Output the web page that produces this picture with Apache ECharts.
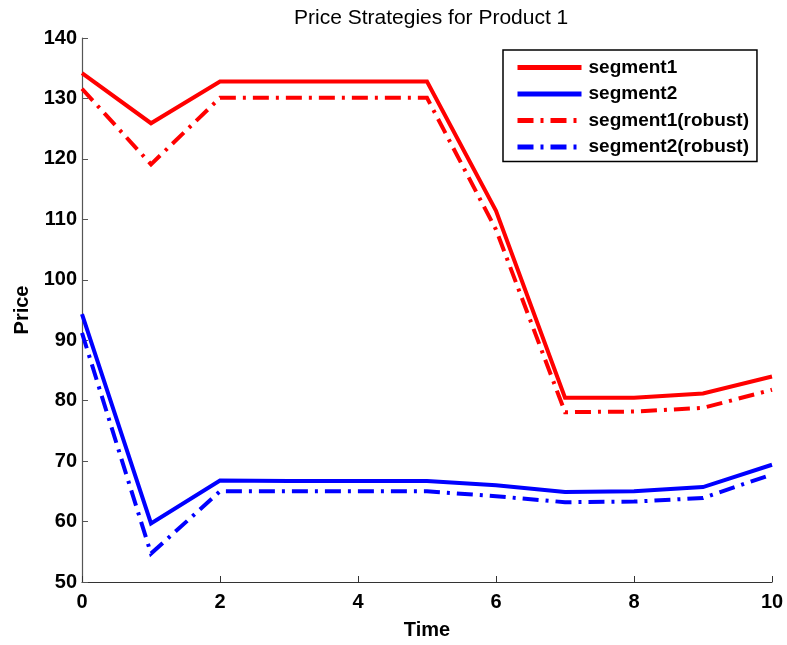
<!DOCTYPE html>
<html>
<head>
<meta charset="utf-8">
<script src="https://cdn.jsdelivr.net/npm/echarts@6/dist/echarts.min.js"></script>
<style>html,body{margin:0;padding:0;background:#fff}#c{width:787px;height:645px}</style>
</head>
<body>
<div id="c"></div>
<script>
var times = [0, 1, 2, 3, 4, 5, 6, 7, 8, 9, 10];
var seg1 = [134.2, 125.9, 132.8, 132.8, 132.8, 132.8, 111.4, 80.5, 80.5, 81.2, 84.0];
var seg2 = [94.3, 59.7, 66.8, 66.7, 66.7, 66.7, 66.0, 64.9, 65.0, 65.7, 69.4];
var seg1r = [131.6, 119.1, 130.1, 130.1, 130.1, 130.1, 108.3, 78.1, 78.2, 78.8, 81.8];
var seg2r = [91.2, 54.7, 65.0, 65.0, 65.0, 65.0, 64.2, 63.2, 63.3, 63.9, 67.8];
var seriesNames = ['segment1', 'segment2', 'segment1(robust)', 'segment2(robust)'];
var xTicks = [0, 2, 4, 6, 8, 10];
var yTicks = [50, 60, 70, 80, 90, 100, 110, 120, 130, 140];

function pairs(vals) { return times.map(function (t, i) { return [t, vals[i]]; }); }
var dashDot = [16, 7, 3, 7];
function mk(name, vals, color, dashed) {
  return {
    name: name, type: 'line', data: pairs(vals), symbol: 'none',
    lineStyle: { color: color, width: 4, type: dashed ? dashDot : 'solid', cap: 'butt', join: 'miter' },
    itemStyle: { color: color },
    animation: false
  };
}
var chart = echarts.init(document.getElementById('c'), null, { renderer: 'canvas' });
var axisFont = { fontFamily: 'Liberation Sans, Arial, sans-serif', fontWeight: 'bold', fontSize: 20, color: '#000' };
chart.setOption({
  animation: false,
  title: {
    text: 'Price Strategies for Product 1', left: 289, top: 3,
    textStyle: { fontFamily: 'Liberation Sans, Arial, sans-serif', fontWeight: 'normal', fontSize: 21, color: '#000' }
  },
  grid: { left: 82, right: 15, top: 38, bottom: 60, containLabel: false },
  legend: {
    orient: 'vertical', left: 503, top: 50,
    data: seriesNames,
    backgroundColor: '#fff', borderColor: '#000', borderWidth: 1.5,
    padding: [8, 8, 5, 12], itemGap: 7.5, itemWidth: 64, itemHeight: 14,
    itemStyle: { opacity: 0, borderWidth: 0 },
    lineStyle: { width: 5 },
    textStyle: { fontFamily: 'Liberation Sans, Arial, sans-serif', fontWeight: 'bold', fontSize: 19, color: '#000', padding: [0, 0, 0, 2] }
  },
  xAxis: {
    type: 'value', min: 0, max: 10, interval: 2,
    name: 'Time', nameLocation: 'middle', nameGap: 38,
    nameTextStyle: axisFont,
    axisLine: { show: true, lineStyle: { color: '#333', width: 1.2 } },
    axisTick: { show: true, inside: true, length: 6, lineStyle: { color: '#333' } },
    axisLabel: Object.assign({ margin: 10 }, axisFont),
    splitLine: { show: false }
  },
  yAxis: {
    type: 'value', min: 50, max: 140, interval: 10,
    name: 'Price', nameLocation: 'middle', nameGap: 50, nameRotate: 90,
    nameTextStyle: axisFont,
    axisLine: { show: true, lineStyle: { color: '#555', width: 1.2 } },
    axisTick: { show: true, inside: true, length: 6, lineStyle: { color: '#555' } },
    axisLabel: Object.assign({ margin: 5 }, axisFont),
    splitLine: { show: false }
  },
  series: [
    mk(seriesNames[0], seg1, '#ff0000', false),
    mk(seriesNames[1], seg2, '#0000ff', false),
    mk(seriesNames[2], seg1r, '#ff0000', true),
    mk(seriesNames[3], seg2r, '#0000ff', true)
  ]
});
</script>
</body>
</html>
